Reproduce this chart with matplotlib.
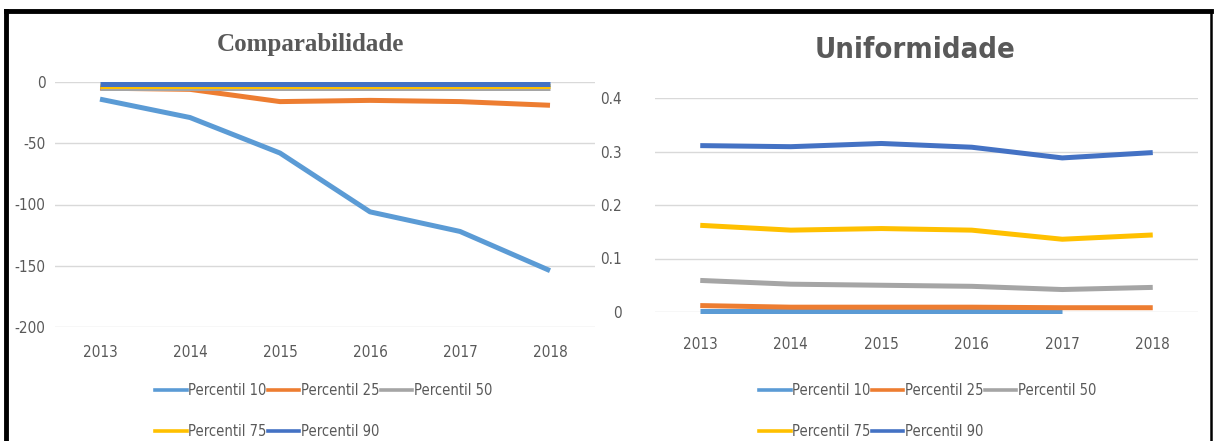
import matplotlib.pyplot as plt
from matplotlib import font_manager
from matplotlib.font_manager import FontProperties
from matplotlib.lines import Line2D
import numpy as np

# dados
anos = ['2013', '2014', '2015', '2016', '2017', '2018']
series = ['Percentil 10', 'Percentil 25', 'Percentil 50', 'Percentil 75', 'Percentil 90']
cores = ['#5B9BD5', '#ED7D31', '#A5A5A5', '#FFC000', '#4472C4']

comp_p10 = [-14, -29, -58, -106, -122, -154]
comp_p25 = [-5, -6, -16, -15, -16, -19]
comp_p50 = [-5, -5, -5, -5, -5, -5]
comp_p75 = [-3, -3, -3, -3, -3, -3]
comp_p90 = [-2, -2, -2, -2, -2, -2]

unif_p10 = [0.002, 0.002, 0.002, 0.002, 0.002, np.nan]
unif_p25 = [0.012, 0.009, 0.009, 0.009, 0.008, 0.008]
unif_p50 = [0.059, 0.052, 0.050, 0.048, 0.042, 0.046]
unif_p75 = [0.162, 0.153, 0.156, 0.153, 0.136, 0.144]
unif_p90 = [0.311, 0.309, 0.315, 0.308, 0.288, 0.298]

comp = [comp_p10, comp_p25, comp_p50, comp_p75, comp_p90]
unif = [unif_p10, unif_p25, unif_p50, unif_p75, unif_p90]


# procura uma fonte estreita (condensed / narrow) instalada
def acha_estreita(bold=False):
    achadas = []
    for f in font_manager.fontManager.ttflist:
        txt = (f.name + ' ' + f.fname).lower()
        estreita = 'narrow' in txt or 'condensed' in txt or f.stretch in ('condensed', 'semi-condensed', 'extra-condensed')
        if not estreita or f.style != 'normal' or 'serif' in f.name.lower() and 'sans' not in f.name.lower():
            continue
        negrito = f.weight in ('bold', 700) or (isinstance(f.weight, int) and f.weight >= 600)
        if negrito != bold:
            continue
        achadas.append(f.fname)
    achadas.sort(key=lambda p: ('light' in p.lower() or 'thin' in p.lower() or 'extra' in p.lower(), p))
    return achadas[0] if achadas else None


arq = acha_estreita(False)
arq_b = acha_estreita(True)
estreita = arq is not None


def fp(size, bold=False):
    a = arq_b if bold else arq
    if a:
        return FontProperties(fname=a, size=size)
    return FontProperties(family='Liberation Sans', size=size * 0.85, weight='bold' if bold else 'normal')


cinza = '#595959'
W, H = 1216, 441
fig = plt.figure(figsize=(W / 100, H / 100), dpi=100)


def eixo(x0, x1, y0, y1):
    return fig.add_axes([x0 / W, 1 - y1 / H, (x1 - x0) / W, (y1 - y0) / H])


def desenha(ax, dados, ylim, yticks, ylabels, ypad, xpad):
    x = np.arange(len(anos))
    for vals, cor, nome in zip(dados, cores, series):
        ax.plot(x, vals, color=cor, lw=3.6, label=nome, solid_capstyle='butt', clip_on=False)
    ax.set_xlim(-0.5, len(anos) - 0.5)
    ax.set_ylim(*ylim)
    ax.set_yticks(yticks)
    ax.set_yticklabels(ylabels, fontproperties=fp(11))
    ax.set_xticks(x)
    ax.set_xticklabels(anos, fontproperties=fp(11))
    ax.grid(axis='y', color='#D9D9D9', lw=1)
    ax.set_axisbelow(True)
    for s in ax.spines.values():
        s.set_visible(False)
    ax.tick_params(axis='y', length=0, pad=ypad, labelcolor=cinza)
    ax.tick_params(axis='x', length=0, pad=xpad, labelcolor=cinza)
    hs = [Line2D([0], [0], color=c, lw=2.6) for c in cores]
    ordem = [0, 3, 1, 4, 2]
    return [hs[i] for i in ordem], [series[i] for i in ordem]


def legenda(h, l, x0):
    fig.legend(h, l, ncol=3, loc='center left', bbox_to_anchor=(x0 / W, 1 - 411 / H),
               frameon=False, prop=fp(10.5), handlelength=2.15, handletextpad=0.1,
               columnspacing=0.1, labelspacing=1.75, labelcolor=cinza, borderpad=0)


ax1 = eixo(55, 595, 82, 327)
h, l = desenha(ax1, comp, (-200, 0), [0, -50, -100, -150, -200],
               ['0', '-50', '-100', '-150', '-200'], 7, 13)
legenda(h, l, 148)
fig.text(310 / W, 1 - 44 / H, 'Comparabilidade', ha='center', va='center',
         fontsize=18, fontweight='bold', color=cinza, family=['Liberation Serif'])

ax2 = eixo(655, 1198, 98, 312)
h, l = desenha(ax2, unif, (0, 0.4), [0, 0.1, 0.2, 0.3, 0.4],
               ['0', '0.1', '0.2', '0.3', '0.4'], 24, 18)
legenda(h, l, 752)
fig.text(915 / W, 1 - 50 / H, 'Uniformidade', ha='center', va='center',
         fontproperties=fp(21 if estreita else 20, bold=True), color=cinza)

# moldura preta
fig.add_artist(Line2D([6 / W, 6 / W], [0, 1 - 11 / H], color='black', lw=3.5))
fig.add_artist(Line2D([6 / W, 1211 / W], [1 - 11 / H, 1 - 11 / H], color='black', lw=3.5))
fig.add_artist(Line2D([1211 / W, 1211 / W], [0, 1 - 11 / H], color='black', lw=1.8))

fig.savefig('out.png', dpi=100)
